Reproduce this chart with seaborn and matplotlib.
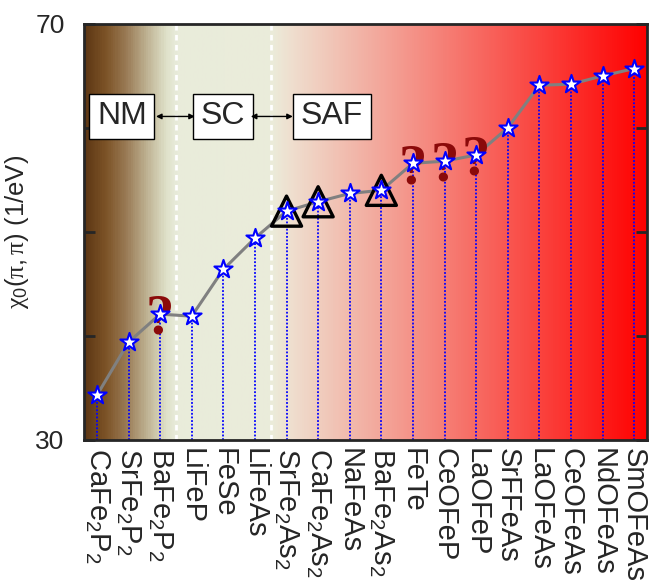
import numpy as np
import pandas as pd
import matplotlib
matplotlib.use("Agg")
import matplotlib.pyplot as plt
import seaborn as sns
from matplotlib.colors import LinearSegmentedColormap

# === DATA ===
compounds = ["CaFe$_2$P$_2$", "SrFe$_2$P$_2$", "BaFe$_2$P$_2$", "LiFeP", "FeSe", "LiFeAs",
             "SrFe$_2$As$_2$", "CaFe$_2$As$_2$", "NaFeAs", "BaFe$_2$As$_2$", "FeTe", "CeOFeP",
             "LaOFeP", "SrFFeAs", "LaOFeAs", "CeOFeAs", "NdOFeAs", "SmOFeAs"]
chi0 = [34.3, 39.4, 42.1, 41.9, 46.4, 49.4, 52.0, 52.9, 53.7, 54.0,
        56.6, 56.8, 57.4, 60.0, 64.1, 64.2, 65.0, 65.7]
triangles = ["SrFe$_2$As$_2$", "CaFe$_2$As$_2$", "BaFe$_2$As$_2$"]
uncertain = ["BaFe$_2$P$_2$", "FeTe", "CeOFeP", "LaOFeP"]
phases = ["NM", "SC", "SAF"]
phase_x = [0.79, 3.99, 7.44]
phase_y = 61.1
boundaries = [2.5, 5.5]

df = pd.DataFrame({"compound": compounds, "chi0": chi0})
df["pos"] = np.arange(len(df))

# === STYLE ===
sns.set_style("ticks")
plt.rcParams["font.family"] = ["Liberation Sans", "DejaVu Sans"]
plt.rcParams["mathtext.fontset"] = "custom"
plt.rcParams["mathtext.rm"] = "Liberation Sans"
plt.rcParams["mathtext.it"] = "Liberation Serif"
plt.rcParams["mathtext.bf"] = "Liberation Sans:bold"

fig = plt.figure(figsize=(6.61, 5.82), dpi=100)
ax = fig.add_axes([0.127, 0.244, 0.852, 0.715])

# === BACKGROUND GRADIENT (NM -> SC -> SAF) ===
stops = [(0.0, "#5e3814"), (0.037, "#7d5428"), (0.073, "#9a7b56"),
         (0.108, "#bdb090"), (0.144, "#dfe1c9"), (0.163, "#e9ecdb"),
         (0.332, "#ebecda"), (0.366, "#efdfcf"), (1.0, "#ff0000")]
cmap = LinearSegmentedColormap.from_list("phase", stops)
grad = np.linspace(0, 1, 600)[None, :]
ax.imshow(grad, cmap=cmap, extent=(0, 1, 0, 1), transform=ax.transAxes,
          aspect="auto", zorder=0)

for b in boundaries:
    ax.axvline(b, color="white", ls=(0, (2, 1.6)), lw=2, zorder=1)

# === DROP LINES, CURVE, MARKERS ===
ax.vlines(df["pos"], 30, df["chi0"], colors="blue", linestyles=(0, (1, 1)),
          lw=1.3, zorder=2)
sns.lineplot(data=df, x="pos", y="chi0", color="gray", lw=2.2, ax=ax, zorder=3)

tri = df[df["compound"].isin(triangles)]
sns.scatterplot(data=tri, x="pos", y="chi0", marker="^", s=470, facecolor="none",
                edgecolor="black", linewidth=2.4, ax=ax, zorder=4)

for _, r in df[df["compound"].isin(uncertain)].iterrows():
    ax.text(r["pos"], r["chi0"] - 1.9, "?", ha="center", va="baseline", fontsize=41,
            fontweight="bold", family="Liberation Serif", color="#8b0a0a", zorder=5)

sns.scatterplot(data=df, x="pos", y="chi0", marker="*", s=190, color="white",
                edgecolor="blue", linewidth=1.5, ax=ax, zorder=6)

# === PHASE LABELS ===
for name, x in zip(phases, phase_x):
    ax.text(x, phase_y, name, ha="center", va="center", fontsize=23, zorder=7,
            bbox=dict(boxstyle="square,pad=0.24", fc="white", ec="black", lw=1))
for x0, x1 in [(1.87, 3.1), (4.87, 6.2)]:
    ax.annotate("", xy=(x1, phase_y), xytext=(x0, phase_y), zorder=7,
                arrowprops=dict(arrowstyle="<|-|>", color="black", lw=1,
                                mutation_scale=8, shrinkA=0, shrinkB=0))

# === AXES ===
ax.set_xlim(-0.41, len(df) - 1 + 0.41)
ax.set_ylim(30, 70)
ax.set_xticks(df["pos"])
ax.set_xticklabels(df["compound"], rotation=270, fontsize=21)
ax.set_xticks(df["pos"][::2], minor=True)
ax.tick_params(axis="x", which="major", length=0, pad=6)
ax.tick_params(axis="x", which="minor", direction="in", length=4, width=1.5,
               top=True, bottom=True)
ax.set_yticks([30, 40, 50, 60, 70])
ax.set_yticklabels(["30", "", "", "", "70"], fontsize=19)
ax.tick_params(axis="y", direction="in", length=8, width=2, left=True, right=True, pad=14)
ax.set_xlabel("")
ax.set_ylabel(r"$\mathit{\chi_0(\pi,\pi)}$ (1/eV)", fontsize=18.5, labelpad=3)
for s in ax.spines.values():
    s.set_linewidth(2)
    s.set_zorder(8)

fig.savefig("out.png", dpi=100)
